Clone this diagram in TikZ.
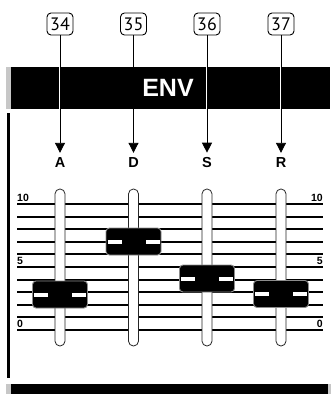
\documentclass[tikz,border=0pt]{standalone}
\usepackage{fontspec}
\setmainfont{Liberation Sans}
\newfontfamily\badgefont{PT Sans}
\usetikzlibrary{arrows.meta}
\begin{document}
\begin{tikzpicture}[x=1pt,y=-1pt,
  badge/.style={draw,line width=0.9pt,rounded corners=4pt,minimum width=26pt,minimum height=22pt,inner sep=0pt,font=\badgefont\fontsize{18}{18}\selectfont},
  chan/.style={font=\bfseries\fontsize{14.5}{14.5}\selectfont,inner sep=0pt},
  feed/.style={line width=0.9pt,-{Triangle[width=10pt,length=10pt]},shorten >=5pt},
  gap/.style={white,line width=1.8pt},
  track/.style={draw=black!85,fill=white,line width=0.8pt,minimum width=10pt,minimum height=157pt,rounded corners=4.9pt,inner sep=0pt},
  knob/.style={draw=black!45,line width=0.9pt,fill=black,rounded corners=3.5pt,minimum width=55pt,minimum height=27pt,inner sep=0pt},
  scaleline/.style={line width=2pt},
  tick/.style={font=\bfseries\fontsize{10.5}{10.5}\selectfont,inner sep=0pt},
  greyfill/.style={fill=black!22}
]
\useasboundingbox (0,0) rectangle (331,394);
% top bar
\fill[greyfill] (6,67) rectangle (11,109);
\fill (11,67) rectangle (330,109);
\node[text=white,font=\bfseries\fontsize{25}{25}\selectfont] (env) at (168,88) {ENV};
% left frame line and bottom bar
\fill (7,113) rectangle (10,378);
\fill[greyfill] (6,384) rectangle (11,394);
\fill (11,384) rectangle (328,394);
\fill[greyfill] (328,384) rectangle (331,394);
% badges and channel labels
\foreach \x/\n/\l/\t in {60/34/A/A,133.5/35/D/D,207/36/S/S,281/37/R/R}{
  \node[badge] (b\n) at (\x,24) {\n};
  \node[chan] (l\l) at (\x,163) {\t};
  \draw[gap] (\x,67) -- (\x,109);
  \draw[feed] (b\n) -- (l\l);
}
% scale lines
\foreach \i in {0,...,10}{
  \draw[scaleline] (17,{204+12.6*\i}) -- (323,{204+12.6*\i});
}
\node[tick,anchor=south west] (t10l) at (17,202) {10};
\node[tick,anchor=south east] (t10r) at (323,202) {10};
\node[tick,anchor=south west] (t5l) at (17,265) {5};
\node[tick,anchor=south east] (t5r) at (323,265) {5};
\node[tick,anchor=south west] (t0l) at (17,328) {0};
\node[tick,anchor=south east] (t0r) at (323,328) {0};
% tracks and knobs
\foreach \x/\y/\l in {60/294.5/A,133.5/241.5/D,207/278.5/S,281/294/R}{
  \node[track] (tr\l) at (\x,267.5) {};
  \node[knob] (k\l) at (\x,\y) {};
  \fill[white] (\x-26,\y-2) rectangle (\x-12,\y+2);
  \fill[white] (\x+12,\y-2) rectangle (\x+26,\y+2);
}
\end{tikzpicture}
\end{document}
